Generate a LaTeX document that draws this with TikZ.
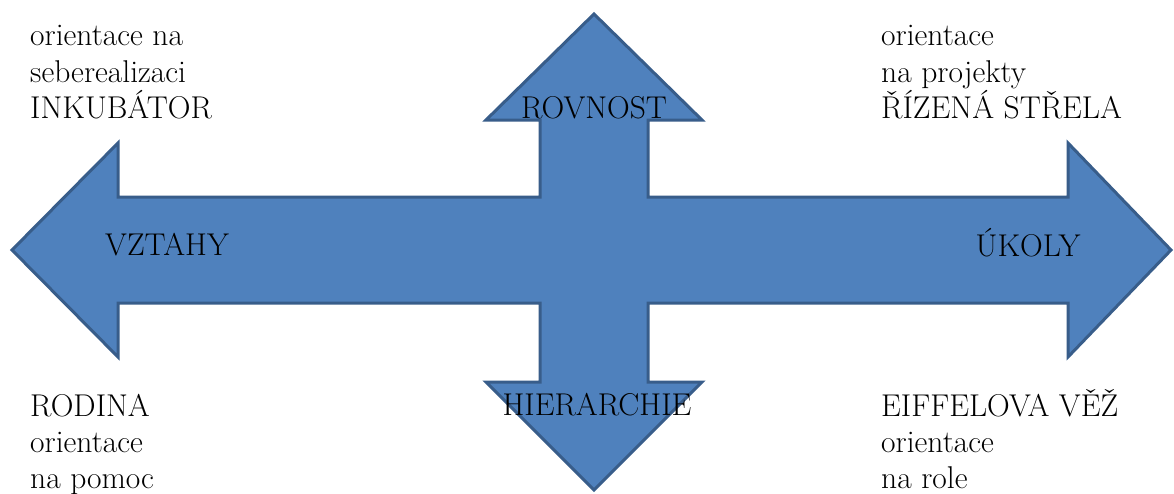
\documentclass[tikz,border=0pt]{standalone}
\usepackage{fontspec}
\definecolor{arrowfill}{RGB}{79,129,189}
\definecolor{arrowline}{RGB}{56,93,138}
\begin{document}
\begin{tikzpicture}[x=1pt,y=-1pt,
  lbl/.style={inner sep=0pt, font=\fontsize{31.5}{36}\selectfont},
  lw/.style={lbl, anchor=base west},
  lc/.style={lbl, anchor=base}]
\useasboundingbox[fill=white] (0,0) rectangle (1174,493);
\draw[fill=arrowfill, draw=arrowline, line width=3pt, line join=miter]
  (12,250) -- (118,143) -- (118,197) -- (540,197) -- (540,120) -- (486,120)
  -- (594,14) -- (702,120) -- (648,120) -- (648,197) -- (1068,197)
  -- (1068,143) -- (1171,250) -- (1068,357) -- (1068,303) -- (648,303)
  -- (648,382) -- (702,382) -- (594,490) -- (486,382) -- (540,382)
  -- (540,303) -- (118,303) -- (118,357) -- cycle;
% top left
\node[lw] (tl1) at (30,45) {orientace na};
\node[lw] (tl2) at (30,82) {seberealizaci};
\node[lw] (tl3) at (30,118) {INKUBÁTOR};
% top right
\node[lw] (tr1) at (881,45) {orientace};
\node[lw] (tr2) at (881,82) {na projekty};
\node[lw] (tr3) at (881,118) {ŘÍZENÁ STŘELA};
% bottom left
\node[lw] (bl1) at (30,416) {RODINA};
\node[lw] (bl2) at (30,452) {orientace};
\node[lw] (bl3) at (30,488) {na pomoc};
% bottom right
\node[lw] (br1) at (881,416) {EIFFELOVA VĚŽ};
\node[lw] (br2) at (881,452) {orientace};
\node[lw] (br3) at (881,488) {na role};
% arrow labels
\node[lc] (rov) at (594,118) {ROVNOST};
\node[lc] (hier) at (597,415) {HIERARCHIE};
\node[lc] (vzt) at (167,255) {VZTAHY};
\node[lc] (uk) at (1028,256) {ÚKOLY};
\end{tikzpicture}
\end{document}
